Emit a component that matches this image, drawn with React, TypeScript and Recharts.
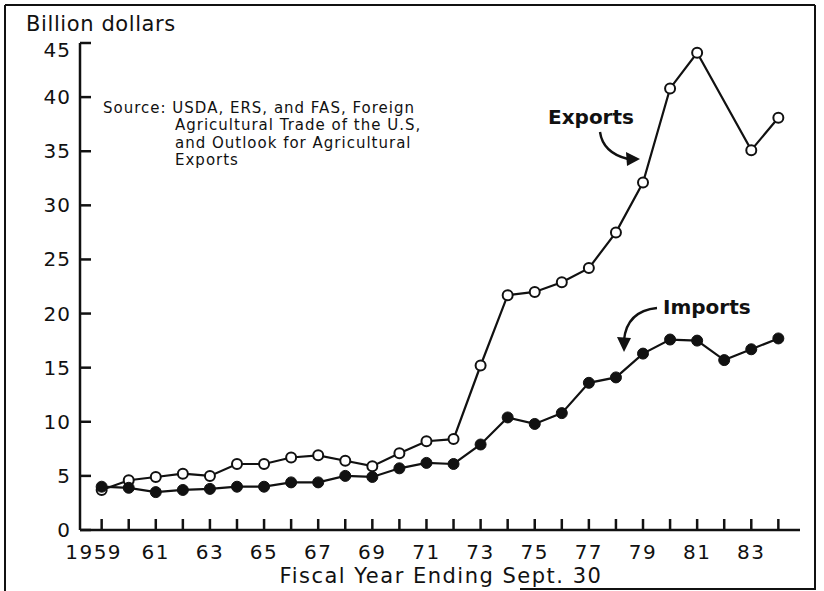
import React from 'react';
import { LineChart, Line, XAxis, YAxis } from 'recharts';

// fiscal years shown on the x axis
const years = [
  1959, 1960, 1961, 1962, 1963, 1964, 1965, 1966, 1967, 1968, 1969, 1970, 1971,
  1972, 1973, 1974, 1975, 1976, 1977, 1978, 1979, 1980, 1981, 1982, 1983, 1984,
];

// billion dollars (no export point plotted for 1982)
const exportsValues = [
  3.7, 4.6, 4.9, 5.2, 5.0, 6.1, 6.1, 6.7, 6.9, 6.4, 5.9, 7.1, 8.2,
  8.4, 15.2, 21.7, 22.0, 22.9, 24.2, 27.5, 32.1, 40.8, 44.1, null, 35.1, 38.1,
];
const importsValues = [
  4.0, 3.9, 3.5, 3.7, 3.8, 4.0, 4.0, 4.4, 4.4, 5.0, 4.9, 5.7, 6.2,
  6.1, 7.9, 10.4, 9.8, 10.8, 13.6, 14.1, 16.3, 17.6, 17.5, 15.7, 16.7, 17.7,
];

const yTicks = [0, 5, 10, 15, 20, 25, 30, 35, 40, 45];

const sourceLines = [
  'Source: USDA, ERS, and FAS, Foreign',
  'Agricultural Trade of the U.S,',
  'and  Outlook for Agricultural',
  'Exports',
];

const data = years.map((year, i) => ({
  year,
  exports: exportsValues[i],
  imports: importsValues[i],
}));

const FONT = '"DejaVu Sans", sans-serif';
const INK = '#111';

const YTick = (props: any) => {
  const { x, y, payload } = props;
  // the top label sits just under its tick, as in the original
  const dy = payload.value === 45 ? 7 : 0;
  return (
    <g>
      <line x1={x} y1={y} x2={x + 11} y2={y} stroke={INK} strokeWidth={2.5} />
      <text x={x - 9} y={y + dy} textAnchor="end" dominantBaseline="central" fontSize={20} fontFamily={FONT} fill={INK} letterSpacing={1}>
        {payload.value}
      </text>
    </g>
  );
};

const XTick = (props: any) => {
  const { x, y, payload } = props;
  const yr: number = payload.value;
  const showLabel = yr % 2 === 1;
  const label = yr === 1959 ? '1959' : String(yr).slice(2);
  return (
    <g>
      <line x1={x} y1={y} x2={x} y2={y - 11} stroke={INK} strokeWidth={2.5} />
      {showLabel && (
        <text x={yr === 1959 ? x - 8 : x} y={y + 22} textAnchor="middle" dominantBaseline="central" fontSize={20} fontFamily={FONT} fill={INK} letterSpacing={1.5}>
          {label}
        </text>
      )}
    </g>
  );
};

export default function App() {
  return (
    <div style={{ position: 'absolute', left: 0, top: 0, width: 824, height: 591, background: '#fff' }}>
      <LineChart width={824} height={591} data={data} margin={{ top: 43, right: 24, left: 0, bottom: 0 }}>
        <XAxis
          type="number"
          dataKey="year"
          domain={[1958.2, 1984.8]}
          ticks={years}
          interval={0}
          height={61}
          tickSize={0}
          tickMargin={0}
          tickLine={false}
          axisLine={{ stroke: INK, strokeWidth: 2.5 }}
          tick={<XTick />}
        />
        <YAxis
          type="number"
          domain={[0, 45]}
          ticks={yTicks}
          interval={0}
          width={80}
          tickSize={0}
          tickMargin={0}
          tickLine={false}
          axisLine={{ stroke: INK, strokeWidth: 2.5 }}
          tick={<YTick />}
        />
        <Line
          dataKey="exports"
          stroke={INK}
          strokeWidth={2.2}
          connectNulls
          isAnimationActive={false}
          dot={{ r: 5, fill: '#fff', stroke: INK, strokeWidth: 2 }}
        />
        <Line
          dataKey="imports"
          stroke={INK}
          strokeWidth={2.2}
          isAnimationActive={false}
          dot={{ r: 5.5, fill: INK, stroke: INK, strokeWidth: 1 }}
        />
      </LineChart>

      <svg width={824} height={591} style={{ position: 'absolute', left: 0, top: 0, pointerEvents: 'none' }}>
        {/* frame */}
        <line x1={5} y1={5} x2={815} y2={5} stroke={INK} strokeWidth={2} />
        <line x1={5} y1={5} x2={5} y2={591} stroke={INK} strokeWidth={2} />
        <line x1={815} y1={5} x2={815} y2={590} stroke={INK} strokeWidth={2} />
        <line x1={520} y1={589} x2={815} y2={589} stroke={INK} strokeWidth={2} />

        <text x={26} y={31} fontSize={21} fontFamily={FONT} fill={INK} letterSpacing={0.6}>
          Billion dollars
        </text>

        <text x={441} y={583} textAnchor="middle" fontSize={21} fontFamily={FONT} fill={INK} letterSpacing={1.5}>
          Fiscal Year Ending Sept. 30
        </text>

        {sourceLines.map((t, i) => (
          <text key={i} x={i === 0 ? 103 : 175} y={113 + i * 17.3} fontSize={15} fontFamily={FONT} fill={INK} letterSpacing={1}>
            {t}
          </text>
        ))}

        <text x={548} y={124} fontSize={20} fontWeight="bold" fontFamily={FONT} fill={INK}>
          Exports
        </text>
        <path d="M600,132 Q603,153 628,159" fill="none" stroke={INK} strokeWidth={2.4} />
        <polygon points="640,159 626,152 627,166" fill={INK} />

        <text x={663} y={314} fontSize={20} fontWeight="bold" fontFamily={FONT} fill={INK}>
          Imports
        </text>
        <path d="M657,308 Q627,311 624,340" fill="none" stroke={INK} strokeWidth={2.4} />
        <polygon points="624,352 617,337 631,338" fill={INK} />
      </svg>
    </div>
  );
}
